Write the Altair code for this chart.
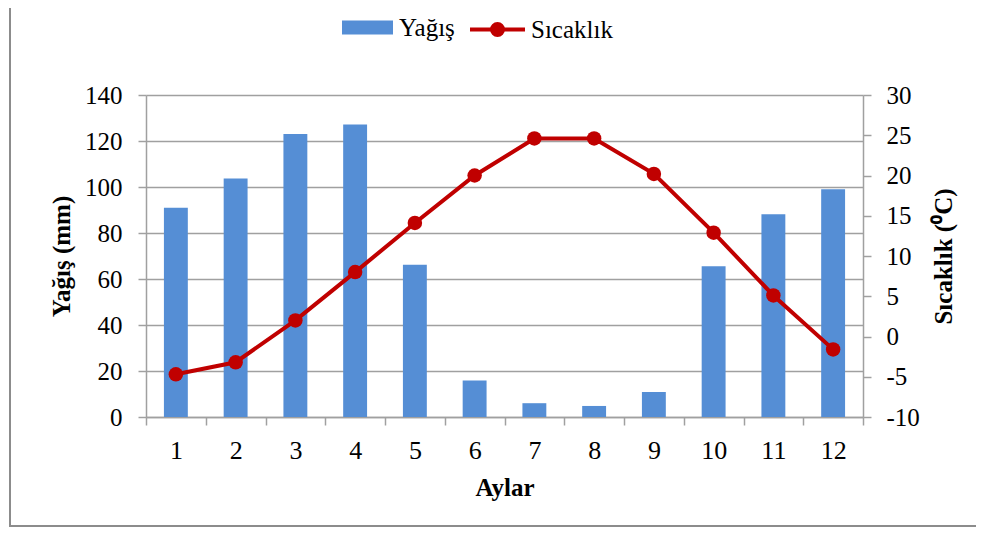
import altair as alt
import pandas as pd

months = [1, 2, 3, 4, 5, 6, 7, 8, 9, 10, 11, 12]
yagis = [91, 103.7, 123, 127.2, 66.2, 15.9, 6.0, 4.8, 10.9, 65.5, 88.1, 99]
sicaklik = [-4.7, -3.2, 2.0, 8.0, 14.1, 20.0, 24.6, 24.6, 20.2, 12.9, 5.1, -1.6]
left_ticks = [0, 20, 40, 60, 80, 100, 120, 140]
right_ticks = [-10, -5, 0, 5, 10, 15, 20, 25, 30]

BLUE = "#558ED5"
RED = "#C00000"
GRAY = "#a0a0a0"
FONT = "Liberation Serif"

df = pd.DataFrame({
    "ay": months,
    "yagis": yagis,
    "sicaklik": sicaklik,
    "s1": ["Yağış"] * 12,
    "s2": ["Sıcaklık"] * 12,
})

x_enc = alt.X(
    "ay:O",
    scale=alt.Scale(paddingInner=0, paddingOuter=0),
    axis=alt.Axis(
        title="Aylar", labelAngle=0, tickBand="extent", grid=False,
        labelFontSize=26, labelPadding=12, titleFontSize=25,
        titleFontWeight="bold", titlePadding=12,
    ),
)

y_left = alt.Y(
    "yagis:Q",
    scale=alt.Scale(domain=[0, 140], nice=False),
    axis=alt.Axis(
        orient="left", values=left_ticks, grid=True, title="Yağış (mm)",
        labelFontSize=25, labelPadding=16, titleFontSize=25,
        titleFontWeight="bold", titlePadding=10,
    ),
)

y_right = alt.Y(
    "sicaklik:Q",
    scale=alt.Scale(domain=[-10, 30], nice=False),
    axis=alt.Axis(
        orient="right", values=right_ticks, grid=False, title="Sıcaklık (⁰C)",
        labelExpr="'' + datum.value",
        labelFontSize=25, labelPadding=15, titleFontSize=25,
        titleFontWeight="bold", titlePadding=12, titleAngle=-90,
        titleBaseline="top",
    ),
)

# decorative outer frame (open on the right, as in the reference crop)
frame = alt.Chart(alt.Data(values=[{}])).mark_rect(
    fillOpacity=0, stroke="#8c8c8c", strokeWidth=2
).encode(
    x=alt.value(-136), x2=alt.value(1200), y=alt.value(-90), y2=alt.value(431)
)

bars = alt.Chart(df).mark_bar(width={"band": 0.4}).encode(
    x=x_enc,
    y=y_left,
    fill=alt.Fill(
        "s1:N",
        scale=alt.Scale(domain=["Yağış"], range=[BLUE]),
        legend=alt.Legend(
            title=None, orient="none", legendX=196, legendY=-93,
            symbolType="M-1,-0.275H1V0.275H-1Z", symbolSize=2601,
            symbolStrokeWidth=0, symbolOpacity=1, labelOffset=6,
        ),
    ),
)

line = alt.Chart(df).mark_line(strokeWidth=4).encode(
    x=x_enc,
    y=y_right,
    stroke=alt.Stroke(
        "s2:N",
        scale=alt.Scale(domain=["Sıcaklık"], range=[RED]),
        legend=alt.Legend(
            title=None, orient="none", legendX=322, legendY=-95,
            symbolType="M-1,0H1M-0.2,0A0.2,0.2 0 1,1 0.2,0A0.2,0.2 0 1,1 -0.2,0Z",
            symbolSize=3025, symbolStrokeWidth=4, symbolFillColor=RED,
            symbolOpacity=1, labelOffset=4,
        ),
    ),
)

points = alt.Chart(df).mark_point(filled=True, size=210, color=RED, opacity=1).encode(
    x=x_enc,
    y=y_right,
)

chart = alt.layer(frame, bars, alt.layer(line, points)).resolve_scale(
    y="independent"
).properties(
    width=717,
    height=322,
    autosize=alt.AutoSizeParams(type="none"),
    padding={"left": 138, "top": 87, "right": 113, "bottom": 111},
).configure_view(
    strokeWidth=0
).configure_axis(
    labelFont=FONT, titleFont=FONT, labelColor="black", titleColor="black",
    domainColor=GRAY, tickColor=GRAY, gridColor=GRAY,
    domainWidth=1.5, tickWidth=1.5, gridWidth=1.5, tickSize=8,
).configure_legend(
    labelFont=FONT, labelFontSize=25, labelColor="black", padding=0,
)

chart.save("out.html", embed_options={"renderer": "svg", "actions": False})
